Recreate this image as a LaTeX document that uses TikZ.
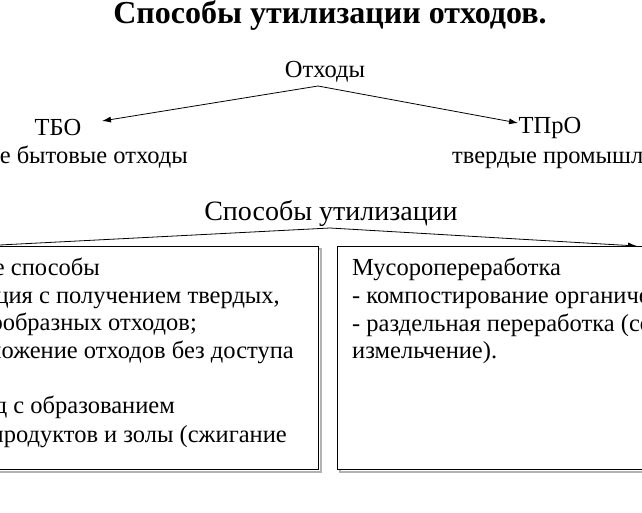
\documentclass[tikz,border=0pt]{standalone}
\usepackage{fontspec}
\setmainfont{Liberation Serif}
\usetikzlibrary{arrows.meta,positioning}

\begin{document}
\begin{tikzpicture}[
    x=1pt, y=-1pt,
    txt/.style={inner sep=0pt, font=\fontsize{24.5}{28}\selectfont},
    arr/.style={-{Latex[length=9pt,width=6pt]}, thick},
    panel/.style={draw, thick, fill=white}
]
\useasboundingbox (0,0) rectangle (642,512);
\clip (0,0) rectangle (642,512);

\node[txt, font=\fontsize{32}{36}\selectfont\bfseries] (title) at (330,15) {Способы утилизации отходов.};

\node[txt] (waste) at (325,72) {Отходы};
\node[txt] (tbo) at (58,128) {ТБО};
\node[txt, anchor=base east] (tbotext) at (188,163) {твердые бытовые отходы};
\node[txt] (tpro) at (550,128) {ТПрО};
\node[txt, anchor=base west] (tprotext) at (452,163) {твердые промышленные отходы};

\coordinate (wl) at (318,86);
\draw[arr] (wl) -- (102,121);
\draw[arr] (wl) -- (518,123);

\node[txt, font=\fontsize{28}{32}\selectfont] (methods) at (331,213) {Способы утилизации};
\coordinate (ml) at (330,228);
\coordinate (lend) at (-20,246);
\coordinate (rend) at (637,246);
\draw[arr] (ml) -- (lend);
\draw[arr] (ml) -- (rend);

% boxes with shadow
\draw[line width=2pt, gray!60] (-10,249) rectangle (321,472);
\draw[panel] (-10,246) rectangle (318,469);
\draw[line width=2pt, gray!60] (340,249) rectangle (660,472);
\draw[panel] (337,246) rectangle (657,469);

% left box
\node[txt, anchor=base east] (l1) at (100,275) {Термические способы};
\node[txt, anchor=base east] (l2) at (280,303) {- пиролиз — деструкция с получением твердых,};
\node[txt, anchor=base east] (l3) at (197,330) {жидких и газообразных отходов;};
\node[txt, anchor=base east] (l4) at (294,358) {- разложение отходов без доступа};
\node[txt, anchor=base east] (l5) at (175,413) {- метод с образованием};
\node[txt, anchor=base east] (l6) at (287,442) {конечных продуктов и золы (сжигание};

% right box
\node[txt, anchor=base west] (r1) at (352,275) {Мусоропереработка};
\node[txt, anchor=base west] (r2) at (352,303) {- компостирование органических отходов;};
\node[txt, anchor=base west] (r3) at (352,331) {- раздельная переработка (сортировка,};
\node[txt, anchor=base west] (r4) at (352,358) {измельчение).};
\end{tikzpicture}
\end{document}
